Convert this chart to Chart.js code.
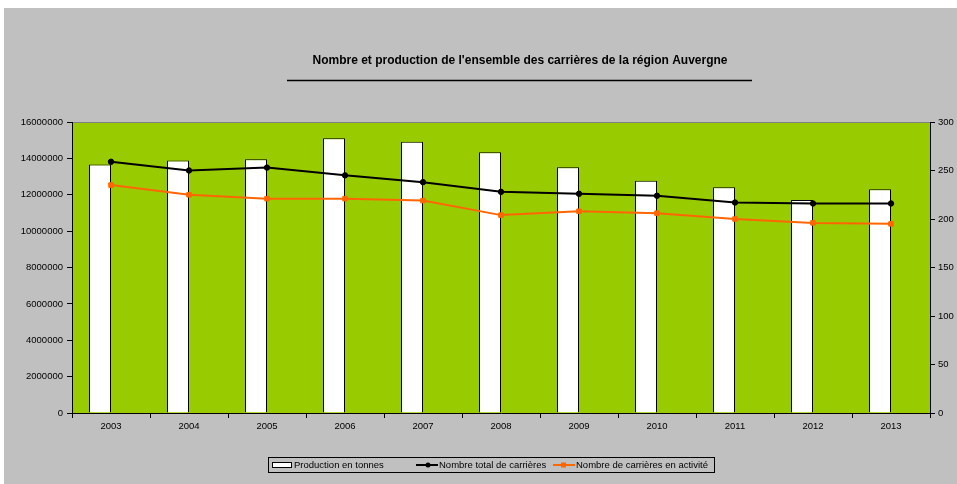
<!DOCTYPE html>
<html>
<head>
<meta charset="utf-8">
<script src="https://cdn.jsdelivr.net/npm/chart.js@4.4.1/dist/chart.umd.min.js"></script>
<style>
  html, body { margin: 0; padding: 0; background: #fff; }
  #frame { position: absolute; left: 4px; top: 8px; width: 953px; height: 476px; background: #c0c0c0; }
  canvas { display: block; }
</style>
</head>
<body>
<div id="frame"><canvas id="chart" width="953" height="476"></canvas></div>
<script>
// data
const years = ["2003", "2004", "2005", "2006", "2007", "2008", "2009", "2010", "2011", "2012", "2013"];
const production = [13670000, 13890000, 13950000, 15100000, 14920000, 14330000, 13510000, 12770000, 12410000, 11710000, 12300000];
const totalQuarries = [259, 250, 253, 245, 238, 228, 226, 224, 217, 216, 216];
const activeQuarries = [235, 225, 221, 221, 219, 204, 208, 206, 200, 196, 195];
const leftAxis = { min: 0, max: 16000000, step: 2000000 };
const rightAxis = { min: 0, max: 300, step: 50 };

const titleText = "Nombre et production de l'ensemble des carrières de la région Auvergne";
const FONT = '"Liberation Sans", Arial, sans-serif';

Chart.defaults.font.family = FONT;
Chart.defaults.color = "#000";

// green plot area with a thin grey top edge
const plotBackground = {
  id: "plotBackground",
  beforeDraw(chart) {
    const { ctx, chartArea: a } = chart;
    ctx.save();
    ctx.fillStyle = "#99cc00";
    ctx.fillRect(a.left, a.top, a.right - a.left, a.bottom - a.top);
    ctx.strokeStyle = "#808080";
    ctx.lineWidth = 1;
    ctx.beginPath();
    ctx.moveTo(a.left, a.top + 0.5);
    ctx.lineTo(a.right, a.top + 0.5);
    ctx.stroke();
    ctx.restore();
  },
};

// title with the underscore rule below it
const titleBlock = {
  id: "titleBlock",
  afterDraw(chart) {
    const { ctx } = chart;
    ctx.save();
    ctx.fillStyle = "#000";
    ctx.font = "bold 12px " + FONT;
    ctx.textAlign = "center";
    ctx.textBaseline = "middle";
    ctx.fillText(titleText, 516, 53);
    ctx.strokeStyle = "#000";
    ctx.lineWidth = 1.3;
    ctx.beginPath();
    ctx.moveTo(283, 72.5);
    ctx.lineTo(748, 72.5);
    ctx.stroke();
    ctx.restore();
  },
};

// boxed legend like the spreadsheet one
const boxedLegend = {
  id: "boxedLegend",
  afterDraw(chart) {
    const { ctx } = chart;
    const ds = chart.data.datasets;
    const box = { x: 264.5, y: 449.5, w: 446, h: 15 };
    const midY = box.y + box.h / 2;
    ctx.save();
    ctx.strokeStyle = "#000";
    ctx.lineWidth = 1;
    ctx.strokeRect(box.x, box.y, box.w, box.h);
    ctx.font = "9.5px " + FONT;
    ctx.textBaseline = "middle";

    // bar entry
    ctx.fillStyle = "#fff";
    ctx.fillRect(268, midY - 2.5, 20, 5);
    ctx.strokeRect(268.5, midY - 2.5, 19, 5);
    ctx.fillStyle = "#000";
    ctx.fillText(ds[0].label, 290, midY);

    // line entries
    [[ds[2], 412], [ds[3], 549]].forEach(([d, x]) => {
      ctx.strokeStyle = d.borderColor;
      ctx.lineWidth = 2;
      ctx.beginPath();
      ctx.moveTo(x, midY);
      ctx.lineTo(x + 22, midY);
      ctx.stroke();
      ctx.fillStyle = d.borderColor;
      if (d.pointStyle === "rect") {
        ctx.fillRect(x + 8, midY - 2.5, 5, 5);
      } else {
        ctx.beginPath();
        ctx.arc(x + 12, midY, 2.5, 0, Math.PI * 2);
        ctx.fill();
      }
      ctx.fillStyle = "#000";
      ctx.fillText(d.label, x + 23, midY);
    });
    ctx.restore();
  },
};

const tickFont = { size: 9.5, family: FONT };

new Chart(document.getElementById("chart"), {
  type: "bar",
  data: {
    labels: years,
    datasets: [
      {
        label: "Production en tonnes",
        data: production,
        yAxisID: "y",
        backgroundColor: "#ffffff",
        borderColor: "#000000",
        borderWidth: 1,
        categoryPercentage: 0.564,
        barPercentage: 1,
        order: 3,
      },
      {
        // empty companion bar, keeps the real bar on the left half of its slot
        label: "",
        data: years.map(() => null),
        yAxisID: "y",
        categoryPercentage: 0.564,
        barPercentage: 1,
        order: 4,
      },
      {
        type: "line",
        label: "Nombre total de carrières",
        data: totalQuarries,
        yAxisID: "y1",
        borderColor: "#000000",
        backgroundColor: "#000000",
        borderWidth: 2,
        pointRadius: 2.7,
        pointBorderWidth: 1,
        pointStyle: "circle",
        tension: 0,
        order: 1,
      },
      {
        type: "line",
        label: "Nombre de carrières en activité",
        data: activeQuarries,
        yAxisID: "y1",
        borderColor: "#ff6600",
        backgroundColor: "#ff6600",
        borderWidth: 2,
        pointRadius: 3.2,
        pointBorderWidth: 1,
        pointStyle: "rect",
        tension: 0,
        order: 2,
      },
    ],
  },
  options: {
    responsive: false,
    animation: false,
    layout: { padding: { top: 114, bottom: 46, left: 0, right: 0 } },
    plugins: {
      legend: { display: false },
      title: { display: false },
      tooltip: { enabled: false },
    },
    scales: {
      x: {
        grid: { offset: true, drawOnChartArea: false, tickLength: 5, color: "#000" },
        border: { color: "#000", width: 1 },
        ticks: { font: tickFont, padding: 3, maxRotation: 0 },
        afterFit(scale) { scale.height = 25; },
      },
      y: {
        position: "left",
        min: leftAxis.min,
        max: leftAxis.max,
        grid: { drawOnChartArea: false, tickLength: 5, color: "#000" },
        border: { color: "#000", width: 1 },
        ticks: { stepSize: leftAxis.step, font: tickFont, padding: 4, callback: (v) => String(v) },
        afterFit(scale) { scale.width = 68; },
      },
      y1: {
        position: "right",
        min: rightAxis.min,
        max: rightAxis.max,
        grid: { drawOnChartArea: false, tickLength: 5, color: "#000" },
        border: { color: "#000", width: 1 },
        ticks: { stepSize: rightAxis.step, font: tickFont, padding: 3, callback: (v) => String(v) },
        afterFit(scale) { scale.width = 27; },
      },
    },
  },
  plugins: [plotBackground, titleBlock, boxedLegend],
});
</script>
</body>
</html>
